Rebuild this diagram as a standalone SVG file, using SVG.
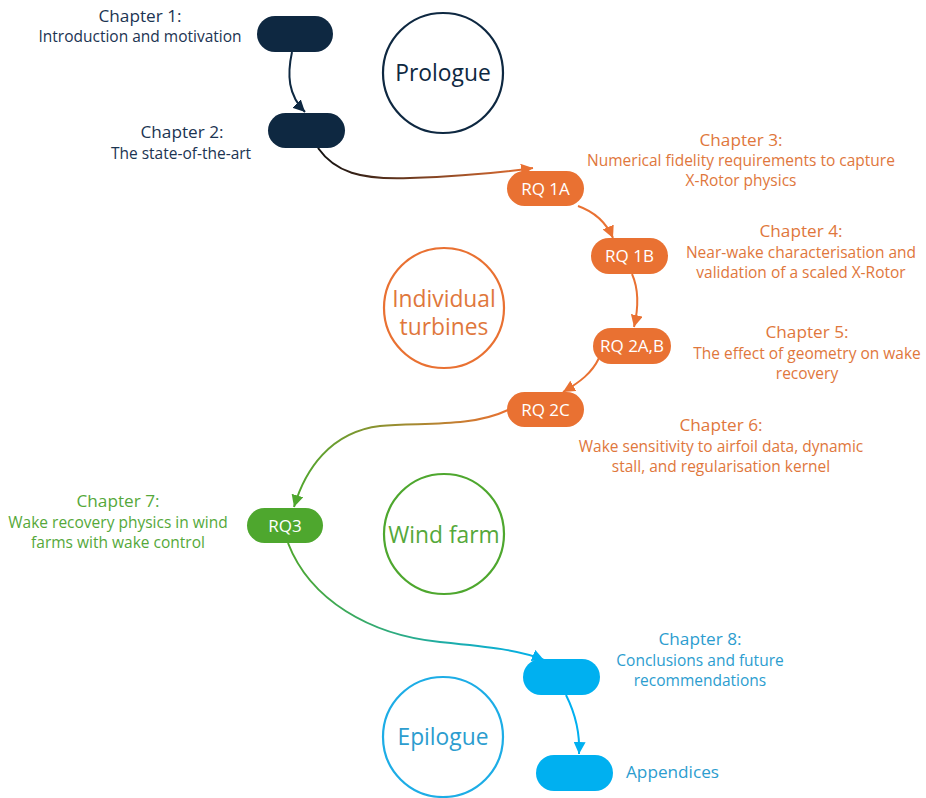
<svg xmlns="http://www.w3.org/2000/svg" width="926" height="798" viewBox="0 0 926 798">
<style>
  text { font-family: "Open Sans", "Liberation Sans", sans-serif; text-anchor: middle; }
  .lbl { font-size: 15.5px; }
  .ttl { font-size: 17.2px; }
  .big { font-size: 22.8px; }
  .pilltxt { font-size: 17px; fill: #ffffff; }
  .navy { fill: #0E2841; }
  .orange { fill: #E97132; }
  .green { fill: #4EA72E; }
  .blue { fill: #00B0F0; }
  .tnavy { fill: #1B3452; }
  .torange { fill: #E0773C; }
  .tgreen { fill: #55A83A; }
  .tblue { fill: #2C9DCF; }
  .conn { fill: none; stroke-width: 2; }
  .circ { fill: none; stroke-width: 2.2; }
</style>
<defs>
  <marker id="mNavy" viewBox="0 0 10 10" refX="10" refY="5" markerWidth="12" markerHeight="12" markerUnits="userSpaceOnUse" orient="auto"><path d="M0,0 L10,5 L0,10 z" fill="#0E2841"/></marker>
  <marker id="mOrange" viewBox="0 0 10 10" refX="10" refY="5" markerWidth="12" markerHeight="12" markerUnits="userSpaceOnUse" orient="auto"><path d="M0,0 L10,5 L0,10 z" fill="#E97132"/></marker>
  <marker id="mGreen" viewBox="0 0 10 10" refX="10" refY="5" markerWidth="12" markerHeight="12" markerUnits="userSpaceOnUse" orient="auto"><path d="M0,0 L10,5 L0,10 z" fill="#4EA72E"/></marker>
  <marker id="mBlue" viewBox="0 0 10 10" refX="10" refY="5" markerWidth="12" markerHeight="12" markerUnits="userSpaceOnUse" orient="auto"><path d="M0,0 L10,5 L0,10 z" fill="#00B0F0"/></marker>
  <linearGradient id="gDO" gradientUnits="userSpaceOnUse" x1="318" y1="0" x2="533" y2="0">
    <stop offset="0" stop-color="#111111"/><stop offset="1" stop-color="#E97132"/>
  </linearGradient>
  <linearGradient id="gOG" gradientUnits="userSpaceOnUse" x1="508" y1="0" x2="294" y2="0">
    <stop offset="0" stop-color="#E97132"/><stop offset="1" stop-color="#4EA72E"/>
  </linearGradient>
  <linearGradient id="gGB" gradientUnits="userSpaceOnUse" x1="288" y1="0" x2="543" y2="0">
    <stop offset="0" stop-color="#4EA72E"/><stop offset="1" stop-color="#00B0F0"/>
  </linearGradient>
</defs>

<g id="connectors">
  <path class="conn" stroke="#0E2841" d="M292,52 C287,75 288,95 305,112" marker-end="url(#mNavy)"/>
  <path class="conn" stroke="url(#gDO)" d="M318,148 C335,172 360,180 410,178 C470,176 505,172 533,168" marker-end="url(#mOrange)"/>
  <path class="conn" stroke="#E97132" d="M578,206 C595,212 606,222 613,238" marker-end="url(#mOrange)"/>
  <path class="conn" stroke="#E97132" d="M632,274 C640,292 638,310 634,327" marker-end="url(#mOrange)"/>
  <path class="conn" stroke="#E97132" d="M599,358 C592,373 580,382 563,392" marker-end="url(#mOrange)"/>
  <path class="conn" stroke="url(#gOG)" d="M508,410 C470,428 420,422 380,426 C330,432 305,470 294,507" marker-end="url(#mGreen)"/>
  <path class="conn" stroke="url(#gGB)" d="M288,543 C310,600 370,635 440,642 C490,647 520,650 544,660" marker-end="url(#mBlue)"/>
  <path class="conn" stroke="#00B0F0" d="M566,695 C576,715 580,735 579,754" marker-end="url(#mBlue)"/>
</g>

<g id="prologue">
  <circle class="circ" cx="443" cy="73" r="60" stroke="#0E2841"/>
  <text class="big" x="443" y="81" fill="#0E2841">Prologue</text>
</g>
<g id="individual-turbines">
  <circle class="circ" cx="444" cy="308" r="60" stroke="#E97132"/>
  <text class="big torange" x="444" y="307">Individual</text>
  <text class="big torange" x="444" y="335">turbines</text>
</g>
<g id="wind-farm">
  <circle class="circ" cx="444" cy="534" r="60" stroke="#4EA72E"/>
  <text class="big tgreen" x="444" y="543">Wind farm</text>
</g>
<g id="epilogue">
  <circle class="circ" cx="443" cy="737" r="60" stroke="#1DADE6"/>
  <text class="big tblue" x="443" y="745">Epilogue</text>
</g>

<g id="chapter1">
  <rect class="navy" x="257" y="16" width="76" height="36" rx="18"/>
  <text class="ttl tnavy" x="140" y="22">Chapter 1:</text>
  <text class="lbl tnavy" x="140" y="42">Introduction and motivation</text>
</g>
<g id="chapter2">
  <rect class="navy" x="268" y="113" width="77" height="35" rx="17.5"/>
  <text class="ttl tnavy" x="182" y="138">Chapter 2:</text>
  <text class="lbl tnavy" x="181" y="159">The state-of-the-art</text>
</g>
<g id="chapter3">
  <rect class="orange" x="507" y="171" width="77" height="35" rx="17.5"/>
  <text class="pilltxt" x="545.5" y="195">RQ 1A</text>
  <text class="ttl torange" x="741" y="146">Chapter 3:</text>
  <text class="lbl torange" x="741" y="166">Numerical fidelity requirements to capture</text>
  <text class="lbl torange" x="741" y="186">X-Rotor physics</text>
</g>
<g id="chapter4">
  <rect class="orange" x="591" y="238" width="77" height="36" rx="18"/>
  <text class="pilltxt" x="629.5" y="262">RQ 1B</text>
  <text class="ttl torange" x="801" y="237">Chapter 4:</text>
  <text class="lbl torange" x="801" y="258">Near-wake characterisation and</text>
  <text class="lbl torange" x="801" y="278">validation of a scaled X-Rotor</text>
</g>
<g id="chapter5">
  <rect class="orange" x="593" y="328" width="78" height="36" rx="18"/>
  <text class="pilltxt" x="632" y="352">RQ 2A,B</text>
  <text class="ttl torange" x="807" y="338">Chapter 5:</text>
  <text class="lbl torange" x="807" y="359">The effect of geometry on wake</text>
  <text class="lbl torange" x="807" y="379">recovery</text>
</g>
<g id="chapter6">
  <rect class="orange" x="507" y="392" width="77" height="35" rx="17.5"/>
  <text class="pilltxt" x="545.5" y="416">RQ 2C</text>
  <text class="ttl torange" x="721" y="431">Chapter 6:</text>
  <text class="lbl torange" x="721" y="452">Wake sensitivity to airfoil data, dynamic</text>
  <text class="lbl torange" x="721" y="472">stall, and regularisation kernel</text>
</g>
<g id="chapter7">
  <rect class="green" x="247" y="508" width="76" height="35" rx="17.5"/>
  <text class="pilltxt" x="285" y="532">RQ3</text>
  <text class="ttl tgreen" x="118" y="507">Chapter 7:</text>
  <text class="lbl tgreen" x="118" y="528">Wake recovery physics in wind</text>
  <text class="lbl tgreen" x="118" y="548">farms with wake control</text>
</g>
<g id="chapter8">
  <rect class="blue" x="523" y="659" width="77" height="36" rx="18"/>
  <text class="ttl tblue" x="700" y="645">Chapter 8:</text>
  <text class="lbl tblue" x="700" y="666">Conclusions and future</text>
  <text class="lbl tblue" x="700" y="686">recommendations</text>
</g>
<g id="appendices">
  <rect class="blue" x="536" y="755" width="77" height="36" rx="18"/>
  <text class="ttl tblue" x="626" y="778" style="text-anchor:start">Appendices</text>
</g>
</svg>
